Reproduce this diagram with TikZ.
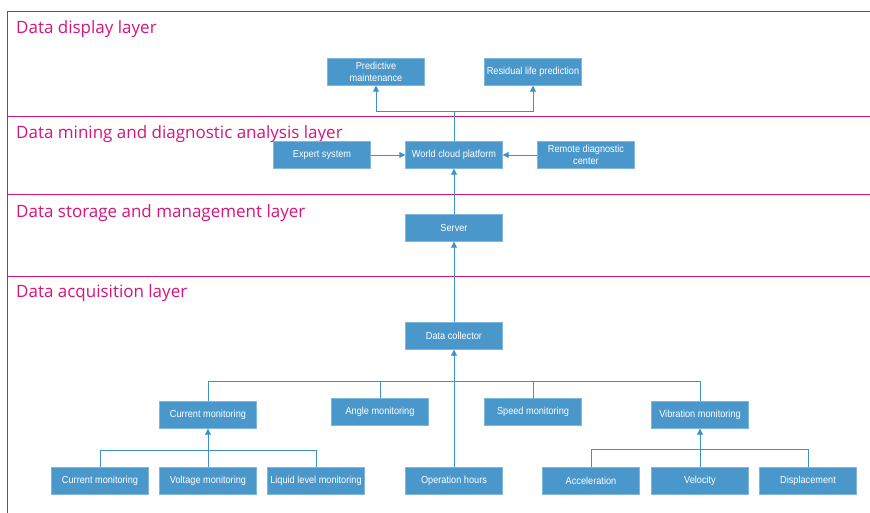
\documentclass[tikz,border=0pt]{standalone}
\usepackage{fontspec}
\usetikzlibrary{arrows.meta}
\newfontfamily\layerfont{Open Sans}
\newfontfamily\boxfont[FakeStretch=0.9]{Liberation Sans}
\definecolor{layerpink}{RGB}{214,20,122}
\definecolor{boxblue}{RGB}{74,152,203}
\definecolor{linkblue}{RGB}{62,146,202}

\tikzset{
  layer/.style={draw=layerpink,line width=0.9pt},
  layername/.style={anchor=west,text=layerpink,font=\layerfont\fontsize{17}{19}\selectfont,inner sep=0pt},
  unit/.style={fill=boxblue,draw=boxblue!70!white,line width=0.4pt,text=white,
    minimum width=97pt,minimum height=27pt,inner sep=1pt,align=center,
    font=\boxfont\fontsize{10.2}{11.5}\selectfont},
  link/.style={draw=linkblue,line width=0.9pt},
  flow/.style={link,-{Triangle[length=6pt,width=6pt]}}
}

\begin{document}
\begin{tikzpicture}[x=1pt,y=-1pt]
    \useasboundingbox (0,0) rectangle (870,513);
    % layers
    \draw[layer] (870,11) -- (7,11) -- (7,513);
    \draw[layer] (7,116) -- (870,116);
    \draw[layer] (7,194) -- (870,194);
    \draw[layer] (7,276) -- (870,276);
    \node[layername] (l1) at (16,29.5) {Data display layer};
    \node[layername] (l2) at (16,134.5) {Data mining and diagnostic analysis layer};
    \node[layername] (l3) at (16,213.5) {Data storage and management layer};
    \node[layername] (l4) at (16,293.5) {Data acquisition layer};

    % display layer
    \node[unit] (pm) at (376,72) {Predictive\\maintenance};
    \node[unit] (rlp) at (533,72) {Residual life prediction};

    % mining layer
    \node[unit] (es) at (322,155) {Expert system};
    \node[unit] (wcp) at (454,155) {World cloud platform};
    \node[unit] (rdc) at (586,155) {Remote diagnostic\\center};

    % storage layer
    \node[unit] (srv) at (454,228) {Server};

    % acquisition layer
    \node[unit] (dc) at (454,336) {Data collector};
    \node[unit] (cm) at (208,415) {Current monitoring};
    \node[unit] (am) at (380,412) {Angle monitoring};
    \node[unit] (sm) at (533,412) {Speed monitoring};
    \node[unit] (vm) at (700,415) {Vibration monitoring};
    \node[unit] (cur) at (100,481) {Current monitoring};
    \node[unit] (vol) at (208,481) {Voltage monitoring};
    \node[unit] (liq) at (316,481) {Liquid level monitoring};
    \node[unit] (oh) at (454,481) {Operation hours};
    \node[unit] (acc) at (591,481) {Acceleration};
    \node[unit] (vel) at (700,481) {Velocity};
    \node[unit] (dis) at (808,481) {Displacement};

    % junctions
    \coordinate (dsp) at (454,111);
    \coordinate (acq) at (454,381);
    \coordinate (cj) at (208,450);
    \coordinate (vj) at (700,449);

    % connectors
    \draw[link] (wcp) -- (dsp);
    \draw[flow] (dsp) -| (pm);
    \draw[flow] (dsp) -| (rlp);
    \draw[flow] (es) -- (wcp);
    \draw[flow] (rdc) -- (wcp);
    \draw[flow] (srv) -- (wcp);
    \draw[flow] (dc) -- (srv);
    \draw[flow] (oh) -- (dc);
    \draw[link] (cm) |- (acq);
    \draw[link] (am) |- (acq);
    \draw[link] (sm) |- (acq);
    \draw[link] (vm) |- (acq);
    \draw[flow] (vol) -- (cm);
    \draw[link] (cur) |- (cj);
    \draw[link] (liq) |- (cj);
    \draw[flow] (vel) -- (vm);
    \draw[link] (acc) |- (vj);
    \draw[link] (dis) |- (vj);
\end{tikzpicture}
\end{document}
